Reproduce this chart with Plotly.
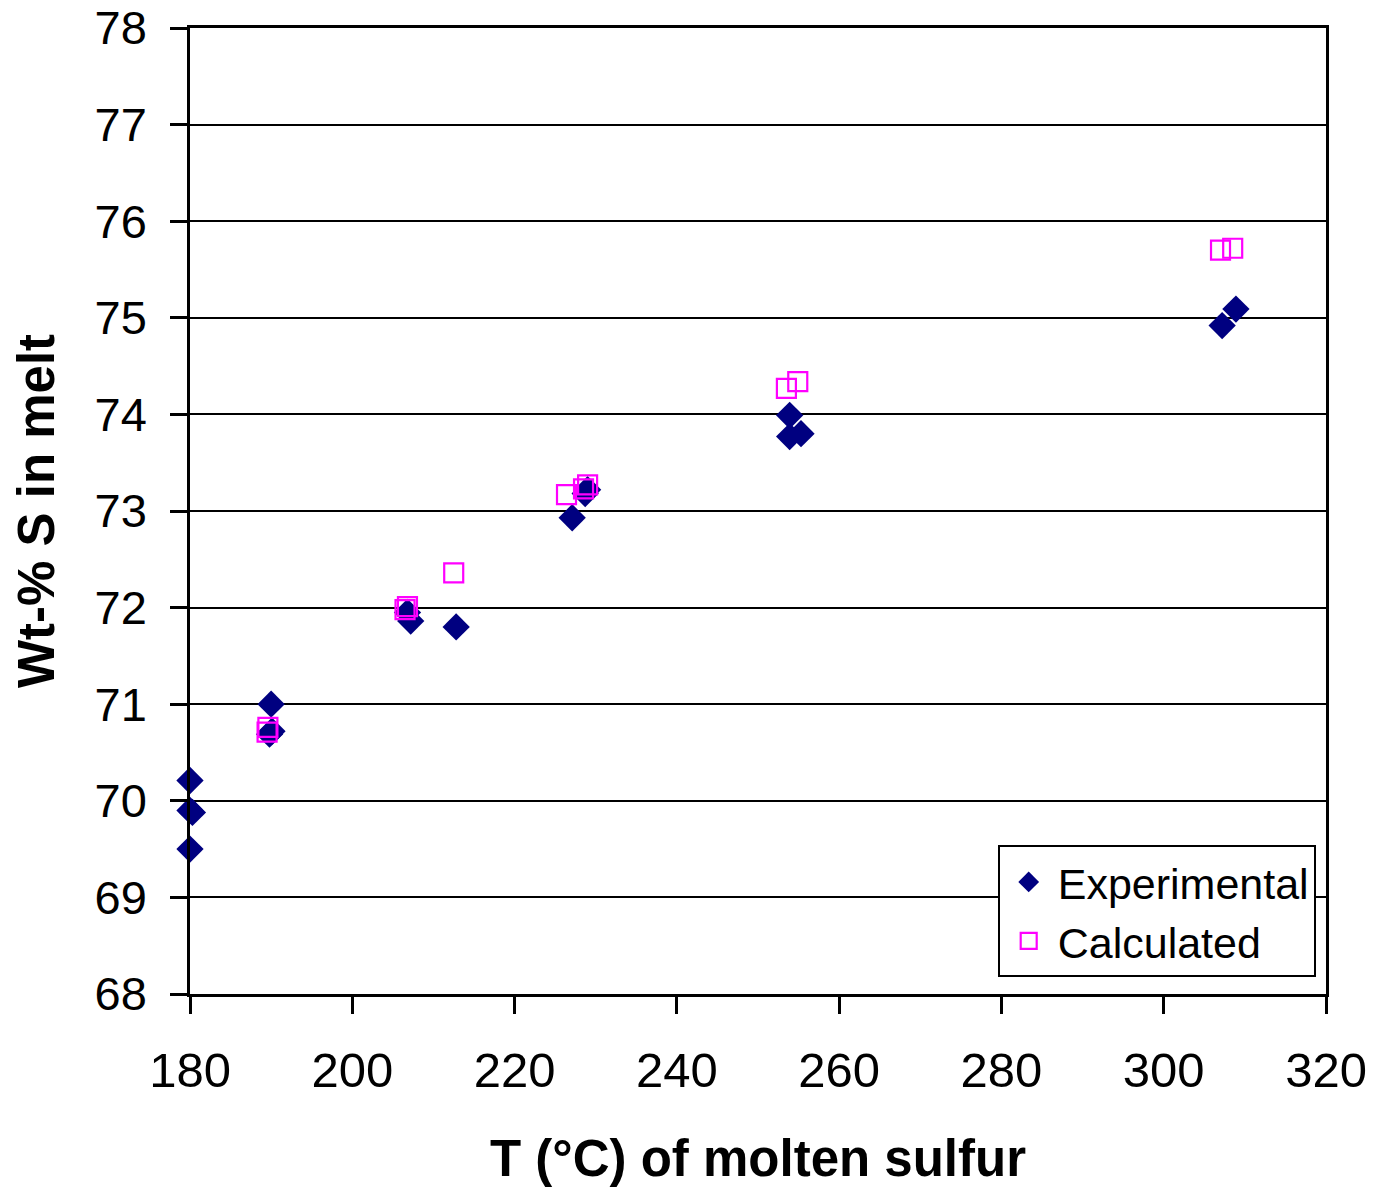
import plotly.graph_objects as go

# Experimental data
exp_T = [180.0, 180.0, 180.3, 180.0, 190.0, 189.8, 190.1, 206.8, 207.2, 212.8,
         227.1, 228.7, 229.0, 253.9, 253.9, 255.3, 307.2, 308.9]
exp_S = [70.21, 69.90, 69.88, 69.50, 71.00, 70.69, 70.72, 71.95, 71.86, 71.80,
         72.93, 73.18, 73.22, 73.99, 73.77, 73.80, 74.92, 75.09]

# Calculated data
calc_T = [179.8, 189.6, 189.5, 206.5, 206.8, 212.5, 226.4, 228.5, 229.0,
          253.5, 254.9, 307.0, 308.5]
calc_S = [69.92, 70.76, 70.71, 71.98, 72.01, 72.36, 73.17, 73.23, 73.27,
          74.27, 74.34, 75.70, 75.72]

x_ticks = [180, 200, 220, 240, 260, 280, 300, 320]
y_ticks = [68, 69, 70, 71, 72, 73, 74, 75, 76, 77, 78]

FONT = "Liberation Sans, Arial, sans-serif"

fig = go.Figure()
fig.add_trace(go.Scatter(
    x=exp_T, y=exp_S, mode="markers", name="Experimental",
    marker=dict(symbol="diamond", size=21, color="#000080",
                line=dict(width=0)),
    cliponaxis=False,
))
fig.add_trace(go.Scatter(
    x=calc_T, y=calc_S, mode="markers", name="Calculated",
    marker=dict(symbol="square-open", size=19, color="#FF00FF",
                line=dict(width=2.2, color="#FF00FF")),
    cliponaxis=False,
))

fig.update_layout(
    width=1376, height=1187,
    margin=dict(l=190, r=50, t=28, b=193, autoexpand=False),
    paper_bgcolor="white", plot_bgcolor="white",
    font=dict(family=FONT, color="black"),
    showlegend=True,
    legend=dict(
        x=0.711, y=0.1538, xanchor="left", yanchor="top",
        bgcolor="white", bordercolor="black", borderwidth=2,
        font=dict(family=FONT, size=43, color="black"),
        itemsizing="trace", itemwidth=48,
    ),
)

fig.update_xaxes(
    range=[180, 320], tickvals=x_ticks, ticktext=[str(v) for v in x_ticks],
    showgrid=False, zeroline=False, automargin=False,
    showline=True, linecolor="black", linewidth=2.5, mirror=True,
    ticks="outside", ticklen=17, tickwidth=2.5, tickcolor="black",
    tickfont=dict(family=FONT, size=49, color="black"),
    ticklabelstandoff=14, ticklabeloverflow="allow",
    title=dict(text="<b>T (°C) of molten sulfur</b>",
               font=dict(family=FONT, size=51, color="black"), standoff=45),
)
fig.update_yaxes(
    range=[68, 78], tickvals=y_ticks, ticktext=[str(v) for v in y_ticks],
    showgrid=True, gridcolor="black", gridwidth=2,
    zeroline=False, automargin=False,
    showline=True, linecolor="black", linewidth=2.5, mirror=True,
    ticks="outside", ticklen=17, tickwidth=2.5, tickcolor="black",
    tickfont=dict(family=FONT, size=47, color="black"),
    ticklabelstandoff=14, ticklabeloverflow="allow",
    title=dict(text="<b>Wt-% S in melt</b>",
               font=dict(family=FONT, size=51, color="black"), standoff=24),
)

fig.write_html("out.html")
